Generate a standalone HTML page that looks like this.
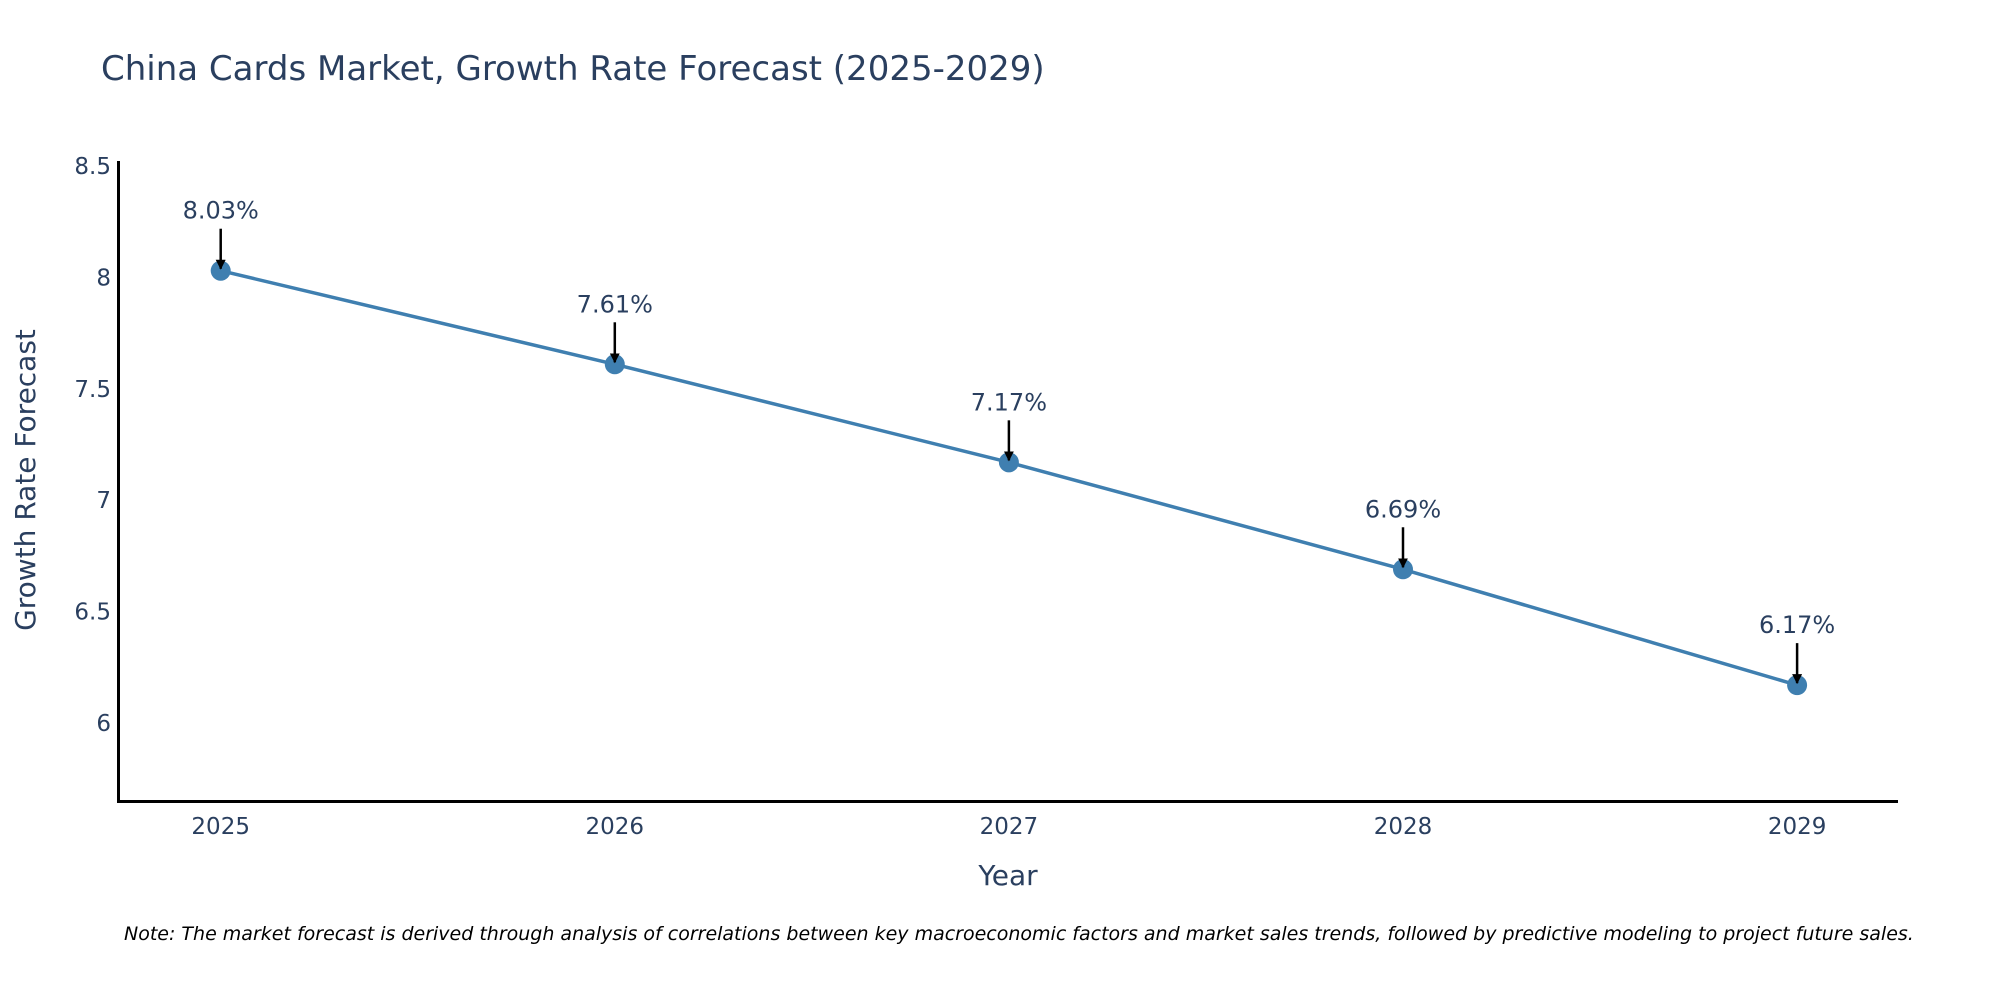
<!DOCTYPE html>
<html><head><meta charset="utf-8"><style>
body{margin:0;background:#fff;}
svg text{font-family:"DejaVu Sans","Liberation Sans",sans-serif;fill:#2a3f5f;}
</style></head><body>
<svg width="2000" height="1000" xmlns="http://www.w3.org/2000/svg">
<defs><marker id="ah" viewBox="0 0 10 10" refX="9" refY="5" markerWidth="4" markerHeight="4" orient="auto"><path d="M0,0L10,5L0,10z" fill="#000"/></marker></defs>
<text x="101" y="80" font-size="34">China Cards Market, Growth Rate Forecast (2025-2029)</text>
<g id="yticks"></g>
<g id="xticks"></g>
<line x1="118.5" y1="161" x2="118.5" y2="802" stroke="#000" stroke-width="3"/>
<line x1="117" y1="801.5" x2="1898" y2="801.5" stroke="#000" stroke-width="3"/>
<text transform="translate(35,480) rotate(-90)" text-anchor="middle" font-size="28">Growth Rate Forecast</text>
<text x="1008" y="885" text-anchor="middle" font-size="28">Year</text>
<g id="series"></g>
<text x="124" y="940" font-size="19" font-style="italic" style="fill:#000">Note: The market forecast is derived through analysis of correlations between key macroeconomic factors and market sales trends, followed by predictive modeling to project future sales.</text>
</svg>
<script>
const years = [2025, 2026, 2027, 2028, 2029];
const growth = [8.03, 7.61, 7.17, 6.69, 6.17];
const labels = ["8.03%", "7.61%", "7.17%", "6.69%", "6.17%"];
const yTicks = [6, 6.5, 7, 7.5, 8, 8.5];
const yTickLabels = ["6", "6.5", "7", "7.5", "8", "8.5"];
const NS = "http://www.w3.org/2000/svg";
function xs(v){ return 220.7 + (v - 2025) * 394.1; }
function ys(v){ return 723 - (v - 6) * 222.8; }
function mk(tag, attrs, parent){ const e = document.createElementNS(NS, tag); for (const k in attrs) e.setAttribute(k, attrs[k]); parent.appendChild(e); return e; }
const yg = document.getElementById('yticks');
yTicks.forEach((t, i) => {
  const tx = mk('text', {x: 111, y: ys(t) + 8, 'text-anchor': 'end', 'font-size': 23}, yg);
  
  
  tx.textContent = yTickLabels[i];
});
const xg = document.getElementById('xticks');
years.forEach(y => {
  const tx = mk('text', {x: xs(y), y: 834, 'text-anchor': 'middle', 'font-size': 23}, xg);
  
  
  tx.textContent = y;
});
const sg = document.getElementById('series');
const pts = years.map((y, i) => xs(y) + ',' + ys(growth[i])).join(' ');
const pl = mk('polyline', {points: pts, fill: 'none', stroke: '#3f7fb0', 'stroke-width': 3.5}, sg);


years.forEach((y, i) => {
  const cx = xs(y), cy = ys(growth[i]);
  const c = mk('circle', {cx: cx, cy: cy, r: 10, fill: '#3f7fb0'}, sg);
  
  
  const a = mk('line', {x1: cx, y1: cy - 42, x2: cx, y2: cy - 2, stroke: '#000', 'stroke-width': 2.5, 'marker-end': 'url(#ah)'}, sg);
  
  
  const t = mk('text', {x: cx, y: cy - 52, 'text-anchor': 'middle', 'font-size': 24}, sg);
  
  
  t.textContent = labels[i];
});
</script>
</body></html>
